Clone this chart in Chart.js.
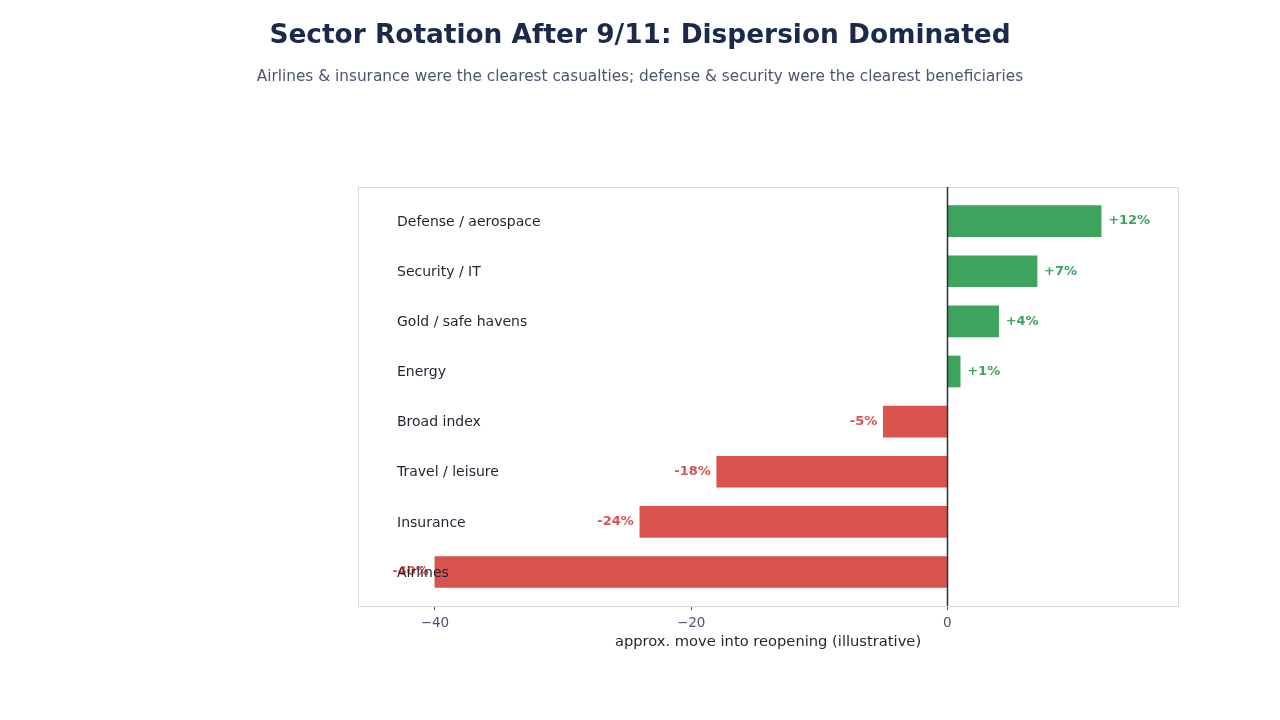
<!DOCTYPE html>
<html>
<head>
<meta charset="utf-8">
<title>Sector Rotation After 9/11</title>
<script src="https://cdn.jsdelivr.net/npm/chart.js@4.4.0/dist/chart.umd.min.js"></script>
<style>
  html, body { margin: 0; padding: 0; background: #ffffff; }
  #wrap { width: 1280px; height: 720px; }
</style>
</head>
<body>
<div id="wrap"><canvas id="sectorChart" width="1280" height="720"></canvas></div>
<script>
// Sector moves after 9/11 (illustrative), top to bottom
const sectors = ['Defense / aerospace', 'Security / IT', 'Gold / safe havens', 'Energy',
                 'Broad index', 'Travel / leisure', 'Insurance', 'Airlines'];
const moves = [12, 7, 4, 1, -5, -18, -24, -40];
const xTicks = [-40, -20, 0];

const GREEN = '#3da35d';
const RED = '#d9534f';
const FONT = "'DejaVu Sans', sans-serif";

// Titles, frame, zero line and text labels
const decorPlugin = {
    id: 'decor',
    beforeDraw(chart) {
        const ctx = chart.ctx;
        ctx.save();
        ctx.textAlign = 'center';
        ctx.textBaseline = 'middle';
        ctx.fillStyle = '#1b2a4a';
        ctx.font = 'bold 26.4px ' + FONT;
        ctx.fillText('Sector Rotation After 9/11: Dispersion Dominated', 640, 36);
        ctx.fillStyle = '#4a5570';
        ctx.font = '15.3px ' + FONT;
        ctx.fillText('Airlines & insurance were the clearest casualties; defense & security were the clearest beneficiaries', 640, 77);
        ctx.restore();
    },
    afterDatasetsDraw(chart) {
        const ctx = chart.ctx;
        const area = chart.chartArea;
        const x = chart.scales.x;
        const y = chart.scales.y;
        ctx.save();

        // frame
        ctx.strokeStyle = '#d5dbe3';
        ctx.lineWidth = 1;
        ctx.strokeRect(area.left + 0.5, area.top + 0.5, area.right - area.left, area.bottom - area.top);

        // zero line
        const x0 = Math.round(x.getPixelForValue(0)) + 0.5;
        ctx.strokeStyle = '#2b2f38';
        ctx.lineWidth = 1.5;
        ctx.beginPath();
        ctx.moveTo(x0, area.top);
        ctx.lineTo(x0, area.bottom);
        ctx.stroke();

        // value labels
        ctx.font = 'bold 13px ' + FONT;
        ctx.textBaseline = 'middle';
        moves.forEach((v, i) => {
            const py = y.getPixelForValue(i);
            const px = x.getPixelForValue(v);
            if (v >= 0) {
                ctx.fillStyle = GREEN;
                ctx.textAlign = 'left';
                ctx.fillText('+' + v + '%', px + 7, py);
            } else {
                ctx.fillStyle = RED;
                ctx.textAlign = 'right';
                ctx.fillText(v + '%', px - 6, py);
            }
        });

        // category labels inside the plot
        ctx.font = '14px ' + FONT;
        ctx.fillStyle = '#1f2430';
        ctx.textAlign = 'left';
        sectors.forEach((s, i) => {
            ctx.fillText(s, area.left + 39, y.getPixelForValue(i) + 1);
        });
        ctx.restore();
    }
};

const ctx = document.getElementById('sectorChart');
new Chart(ctx.getContext('2d'), {
    type: 'bar',
    data: {
        datasets: [{
            data: moves.map((v, i) => ({ x: v, y: i })),
            backgroundColor: moves.map(v => v >= 0 ? GREEN : RED),
            borderWidth: 0,
            barThickness: 31
        }]
    },
    options: {
        indexAxis: 'y',
        responsive: false,
        animation: false,
        layout: {
            padding: { top: 187, left: 358, right: 102, bottom: 70 }
        },
        scales: {
            y: {
                type: 'linear',
                display: false,
                reverse: true,
                offset: false,
                min: -0.68,
                max: 7.68
            },
            x: {
                type: 'linear',
                min: -46,
                max: 18,
                border: { display: true, color: '#d5dbe3' },
                grid: {
                    drawOnChartArea: false,
                    drawTicks: true,
                    tickLength: 4,
                    color: '#4a5570'
                },
                afterBuildTicks(scale) {
                    scale.ticks = xTicks.map(v => ({ value: v }));
                },
                ticks: {
                    color: '#4a5570',
                    font: { family: FONT, size: 13.5 },
                    padding: 5,
                    callback: v => String(v).replace('-', '\u2212')
                },
                title: {
                    display: true,
                    text: 'approx. move into reopening (illustrative)',
                    color: '#1f2430',
                    font: { family: FONT, size: 14.7, lineHeight: 1 },
                    padding: { top: -1, bottom: 0 }
                }
            }
        },
        plugins: {
            legend: { display: false },
            tooltip: { enabled: false }
        }
    },
    plugins: [decorPlugin]
});
</script>
</body>
</html>
